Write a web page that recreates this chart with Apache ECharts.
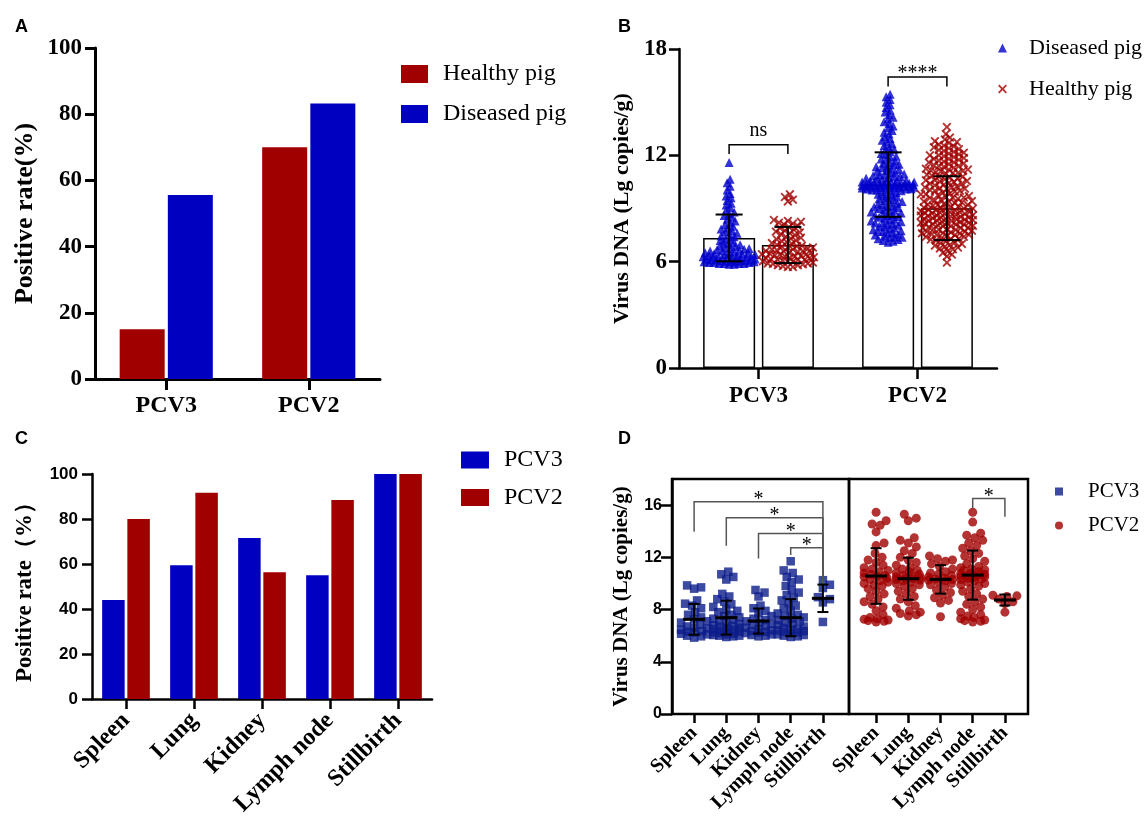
<!DOCTYPE html>
<html>
<head>
<meta charset="utf-8">
<script src="https://cdn.jsdelivr.net/npm/echarts@6/dist/echarts.min.js"></script>
<style>
  html, body { margin: 0; padding: 0; background: #fff; }
  #main { width: 1145px; height: 819px; }
</style>
</head>
<body>
<div id="main"></div>
<script>
// ---------- data ----------
// A: positive rate by herd status
const pigGroups = ['PCV3', 'PCV2'];
const rateHealthy = [15.0, 70.0];
const rateDiseased = [55.6, 83.2];

// B: viral load (Lg copies/g), individual samples
const dnaDiseasedPCV3 = [11.6, 10.65, 10.45, 10.25, 10.05, 9.85, 9.7, 9.6, 9.45, 9.3, 9.2, 9.05, 8.9, 8.8, 8.7, 8.6, 8.5, 8.4, 8.3, 8.2,
  8.1, 8.0, 7.9, 7.85, 7.75, 7.7, 7.6, 7.55, 7.45, 7.4, 7.3, 7.25, 7.2, 7.1, 7.05, 7.0, 6.95, 6.9, 6.85, 6.8, 6.75, 6.75, 6.7, 6.65,
  6.6, 6.6, 6.55, 6.5, 6.5, 6.45, 6.45, 6.4, 6.4, 6.35, 6.35, 6.3, 6.3, 6.3, 6.25, 6.25, 6.2, 6.2, 6.2, 6.15, 6.15, 6.15, 6.1, 6.1,
  6.1, 6.05, 6.05, 6.05, 6.0, 6.0, 6.0, 6.0, 5.95, 5.95, 5.95, 5.9, 5.9, 5.9, 5.9, 5.85, 5.85, 6.48, 6.28, 6.12, 6.02, 6.68];
const dnaHealthyPCV3 = [9.8, 9.65, 9.5, 9.4, 8.35, 8.3, 8.25, 8.2, 8.15, 8.1, 8.0, 7.95, 7.9, 7.8, 7.75, 7.7, 7.6, 7.55, 7.5, 7.4,
  7.35, 7.3, 7.2, 7.15, 7.1, 7.05, 7.0, 6.95, 6.9, 6.85, 6.8, 6.8, 6.75, 6.7, 6.7, 6.65, 6.6, 6.6, 6.55, 6.5, 6.5, 6.45, 6.4, 6.4,
  6.35, 6.3, 6.3, 6.25, 6.2, 6.2, 6.15, 6.1, 6.1, 6.05, 6.0, 6.0, 5.95, 5.9, 5.9, 5.85, 5.8, 5.8, 5.75, 5.7, 5.7, 6.42, 6.22, 6.02,
  6.58, 6.88, 7.25, 7.65, 5.88, 6.12, 6.32];
const dnaDiseasedPCV2 = [15.45, 15.3, 15.15, 15.0, 14.85, 14.7, 14.55, 14.45, 14.3, 14.15, 14.05, 13.9, 13.8, 13.65, 13.55, 13.4,
  13.3, 13.2, 13.05, 12.95, 12.85, 12.75, 12.65, 12.55, 12.45, 12.35, 12.3, 12.2, 12.1, 12.05, 11.95, 11.9, 11.8, 11.75, 11.7, 11.6,
  11.55, 11.5, 11.45, 11.4, 11.35, 11.3, 11.25, 11.2, 11.15, 11.1, 11.05, 11.0, 10.95, 10.9, 10.9, 10.85, 10.8, 10.8, 10.75, 10.7,
  10.7, 10.65, 10.6, 10.6, 10.55, 10.55, 10.5, 10.5, 10.5, 10.45, 10.45, 10.4, 10.4, 10.4, 10.35, 10.35, 10.35, 10.3, 10.3, 10.3,
  10.3, 10.25, 10.25, 10.25, 10.2, 10.2, 10.2, 10.2, 10.15, 10.15, 10.1, 10.1, 10.1, 10.05, 10.05, 10.0, 10.0, 9.95, 9.9, 9.85, 9.8,
  9.75, 9.7, 9.65, 9.6, 9.55, 9.5, 9.45, 9.4, 9.35, 9.3, 9.25, 9.2, 9.15, 9.1, 9.05, 9.0, 8.95, 8.9, 8.85, 8.8, 8.75, 8.7, 8.65, 8.6,
  8.55, 8.5, 8.45, 8.4, 8.35, 8.3, 8.25, 8.2, 8.15, 8.1, 8.05, 8.0, 7.95, 7.9, 7.85, 7.8, 7.75, 7.7, 7.65, 7.6, 7.55, 7.5, 7.45, 7.4,
  7.35, 7.3, 7.25, 7.2, 7.15, 7.1, 10.28, 10.32, 10.38, 10.22, 10.42, 10.18, 10.48, 10.12, 9.08, 8.62, 8.18, 7.72, 7.38];
const dnaHealthyPCV2 = [13.6, 13.2, 13.0, 12.9, 12.8, 12.75, 12.7, 12.6, 12.55, 12.5, 12.45, 12.4, 12.35, 12.3, 12.25, 12.2, 12.15,
  12.1, 12.05, 12.0, 12.0, 11.95, 11.9, 11.85, 11.8, 11.8, 11.75, 11.7, 11.65, 11.6, 11.6, 11.55, 11.5, 11.45, 11.4, 11.4, 11.35,
  11.3, 11.25, 11.2, 11.2, 11.15, 11.1, 11.05, 11.0, 11.0, 10.95, 10.9, 10.85, 10.8, 10.8, 10.75, 10.7, 10.65, 10.6, 10.6, 10.55,
  10.5, 10.45, 10.4, 10.4, 10.35, 10.3, 10.25, 10.2, 10.2, 10.15, 10.1, 10.05, 10.0, 10.0, 9.95, 9.9, 9.85, 9.8, 9.8, 9.75, 9.7,
  9.65, 9.6, 9.6, 9.55, 9.5, 9.45, 9.4, 9.4, 9.35, 9.3, 9.25, 9.2, 9.2, 9.15, 9.1, 9.1, 9.05, 9.0, 9.0, 8.95, 8.9, 8.9, 8.85, 8.8,
  8.8, 8.75, 8.7, 8.7, 8.65, 8.6, 8.6, 8.55, 8.5, 8.5, 8.45, 8.4, 8.4, 8.35, 8.3, 8.3, 8.25, 8.2, 8.2, 8.15, 8.1, 8.1, 8.05, 8.0,
  8.0, 7.95, 7.9, 7.9, 7.85, 7.8, 7.8, 7.75, 7.7, 7.7, 7.65, 7.6, 7.6, 7.55, 7.5, 7.5, 7.45, 7.4, 7.4, 7.35, 7.3, 7.25, 7.2, 7.15,
  7.1, 7.05, 7.0, 6.95, 6.9, 6.85, 6.8, 6.75, 6.7, 6.6, 6.5, 6.4, 6.3, 5.95, 8.02, 8.22, 8.42, 8.62, 8.82, 9.02, 9.22, 8.12, 8.32,
  8.52, 8.72, 7.82, 7.62, 9.42, 9.62, 10.12, 10.52, 11.12, 7.52, 7.28, 7.92, 8.18, 8.38, 8.58, 8.78, 8.98];
const meanDiseased = [7.34, 10.35];
const sdDiseased = [1.32, 1.82];
const meanHealthy = [6.94, 9.02];
const sdHealthy = [1.02, 1.80];
// brackets: [left group, right group, bar height, left leg end, right leg end]
const sigB = [[0, 0, 12.6, 12.08, 12.08], [1, 1, 16.42, 15.88, 15.88]];
const sigBText = ['ns', '****'];

// C: positive rate by tissue
const tissues = ['Spleen', 'Lung', 'Kidney', 'Lymph node', 'Stillbirth'];
const tissueRatePCV3 = [44.0, 59.5, 71.6, 55.0, 100];
const tissueRatePCV2 = [80.0, 91.7, 56.3, 88.5, 100];

// D: viral load by tissue
const tissueDnaPCV3 = [
  [9.85, 9.7, 9.6, 8.7, 8.45, 8.3, 8.1, 7.8, 7.6, 7.4, 7.25, 7.1, 7.0, 6.85, 6.7, 6.55, 6.45, 6.35, 6.25, 6.15, 6.1, 6.0, 5.95, 5.85, 6.3, 6.6],
  [10.9, 10.7, 10.5, 10.3, 9.2, 9.0, 8.8, 8.6, 8.4, 8.2, 8.0, 7.9, 7.8, 7.6, 7.5, 7.4, 7.3, 7.2, 7.1, 7.0, 6.9, 6.8, 6.7, 6.6, 6.5,
    6.45, 6.4, 6.3, 6.25, 6.2, 6.15, 6.1, 6.05, 6.0, 6.0, 5.95, 5.9, 6.35, 6.55, 6.75],
  [9.5, 9.3, 9.0, 8.3, 8.1, 7.9, 7.7, 7.5, 7.3, 7.2, 7.1, 7.0, 6.9, 6.8, 6.7, 6.6, 6.5, 6.4, 6.35, 6.3, 6.2, 6.1, 6.05, 6.0, 5.95, 6.25],
  [11.7, 11.0, 10.8, 10.5, 10.3, 10.1, 9.8, 9.5, 9.3, 9.1, 8.9, 8.7, 8.5, 8.3, 8.1, 7.9, 7.7, 7.6, 7.5, 7.4, 7.3, 7.2, 7.1, 7.0, 6.9,
    6.8, 6.7, 6.6, 6.5, 6.45, 6.4, 6.3, 6.25, 6.2, 6.1, 6.05, 6.0, 5.95, 5.9, 6.35],
  [10.25, 9.9, 9.65, 8.95, 8.8, 8.55, 7.05]
];
const tissueDnaPCV2 = [
  [15.45, 14.8, 14.55, 14.45, 13.95, 13.1, 12.9, 12.3, 12.0, 11.8, 11.6, 11.4, 11.2, 11.0, 10.9, 10.8, 10.7, 10.6, 10.5, 10.4, 10.3,
    10.2, 10.1, 10.0, 9.8, 9.6, 9.4, 9.2, 9.0, 8.8, 8.6, 8.4, 8.2, 7.9, 7.6, 7.4, 7.3, 7.2, 7.15, 7.1, 7.05, 7.25, 9.9, 10.55, 11.1],
  [15.3, 15.0, 14.8, 13.5, 13.3, 13.1, 12.8, 12.5, 12.3, 12.0, 11.8, 11.6, 11.4, 11.2, 11.0, 10.9, 10.8, 10.7, 10.6, 10.5, 10.45,
    10.4, 10.35, 10.3, 10.2, 10.1, 10.0, 9.8, 9.6, 9.4, 9.2, 9.0, 8.8, 8.6, 8.3, 8.1, 7.9, 7.8, 7.7, 7.6, 7.5, 10.55, 10.25, 9.9, 11.1],
  [12.1, 11.9, 11.8, 11.7, 11.5, 11.3, 11.1, 10.9, 10.8, 10.7, 10.6, 10.5, 10.4, 10.3, 10.25, 10.2, 10.1, 10.0, 9.9, 9.7, 9.5, 9.3,
    9.1, 8.9, 8.7, 8.5, 7.45, 10.35],
  [15.45, 14.7, 13.85, 13.7, 13.5, 13.3, 13.1, 12.9, 12.7, 12.5, 12.3, 12.1, 11.9, 11.7, 11.5, 11.3, 11.2, 11.1, 11.0, 10.9, 10.8,
    10.7, 10.65, 10.6, 10.55, 10.5, 10.45, 10.4, 10.3, 10.2, 10.1, 10.0, 9.9, 9.8, 9.6, 9.4, 9.2, 9.0, 8.8, 8.6, 8.4, 8.2, 8.0, 7.8,
    7.6, 7.5, 7.4, 7.3, 7.2, 7.15, 7.1, 7.05, 10.75, 10.35, 11.05],
  [9.1, 9.05, 9.0, 8.8, 8.6, 8.45, 7.8]
];
const meanPCV3 = [7.25, 7.38, 7.12, 7.38, 8.86];
const sdPCV3 = [1.18, 1.30, 0.96, 1.42, 1.05];
const meanPCV2 = [10.57, 10.36, 10.31, 10.64, 8.73];
const sdPCV2 = [2.13, 1.61, 1.09, 1.88, 0.42];
// [left tissue, right tissue, bar height, left leg end, right leg end]
const sigPCV3 = [[0, 4, 16.26, 13.96, 9.88], [1, 4, 15.03, 12.89, 9.88], [2, 4, 13.83, 11.92, 9.88], [3, 4, 12.74, 12.17, 9.88]];
const sigPCV2 = [[3, 4, 16.5, 15.75, 15.1]];

// ---------- helpers ----------
const SERIF = 'Liberation Serif', SANS = 'Liberation Sans';
const RED = '#a00000', BLUE = '#0000c0', TRI = '#0000cc', NAVY = '#0c1d8a';
const CROSS = 'path://M0,1.5L1.5,0L5,3.5L8.5,0L10,1.5L6.5,5L10,8.5L8.5,10L5,6.5L1.5,10L0,8.5L3.5,5Z';

// simple beeswarm: horizontal pixel offsets so markers overlap as little as possible
function beeswarm(values, pxPerY, minDist, maxHalf) {
  const order = values.map((_, i) => i).sort((a, b) => values[a] - values[b]);
  const placed = [];
  const offsets = new Array(values.length).fill(0);
  for (const i of order) {
    const y = values[i] * pxPerY;
    const near = placed.filter(p => Math.abs(p[1] - y) < minDist);
    let best = 0, bestCost = Infinity;
    for (let s = 0; s <= 2 * maxHalf; s++) {
      const x = s === 0 ? 0 : (s % 2 ? (s + 1) / 2 : -s / 2);
      let cost = 0;
      for (const p of near) {
        const d = Math.hypot(p[0] - x, p[1] - y);
        if (d < minDist) cost += minDist - d;
      }
      if (cost < bestCost - 1e-9) { bestCost = cost; best = x; }
      if (cost === 0) break;
    }
    offsets[i] = best;
    placed.push([best, y]);
  }
  return offsets;
}
function swarmData(values, center, pxX, pxY, minDist, maxHalf) {
  const offs = beeswarm(values, pxY, minDist, maxHalf);
  return values.map((v, i) => [center + offs[i] / pxX, v]);
}

function errorBars(capW, meanW) {
  return function (params, api) {
    const x = api.value(0), m = api.value(1), s = api.value(2);
    const top = api.coord([x, m + s]), bot = api.coord([x, m - s]), mid = api.coord([x, m]);
    const st = { stroke: '#000', lineWidth: 2 };
    const kids = [
      { type: 'line', shape: { x1: top[0], y1: top[1], x2: bot[0], y2: bot[1] }, style: st },
      { type: 'line', shape: { x1: top[0] - capW / 2, y1: top[1], x2: top[0] + capW / 2, y2: top[1] }, style: st },
      { type: 'line', shape: { x1: bot[0] - capW / 2, y1: bot[1], x2: bot[0] + capW / 2, y2: bot[1] }, style: st }
    ];
    if (meanW) {
      kids.push({ type: 'line', shape: { x1: mid[0] - meanW / 2, y1: mid[1], x2: mid[0] + meanW / 2, y2: mid[1] },
        style: { stroke: '#000', lineWidth: 3 } });
    }
    return { type: 'group', children: kids };
  };
}

function brackets(texts, color, fontSize, dy) {
  return function (params, api) {
    const x0 = api.value(0), x1 = api.value(1), y = api.value(2);
    const p0 = api.coord([x0, api.value(3)]), p1 = api.coord([x0, y]);
    const p2 = api.coord([x1, y]), p3 = api.coord([x1, api.value(4)]);
    return {
      type: 'group',
      children: [
        { type: 'polyline', shape: { points: [p0, p1, p2, p3] }, style: { stroke: color, lineWidth: 1.5, fill: null } },
        { type: 'text', style: { text: texts[params.dataIndex], x: (p1[0] + p2[0]) / 2, y: p1[1] + dy[params.dataIndex],
          align: 'center', verticalAlign: 'middle', font: fontSize + 'px "' + SERIF + '"', fill: '#000' } }
      ]
    };
  };
}

const blackLine = w => ({ show: true, lineStyle: { color: '#000', width: w } });
const noSplit = { show: false };
const legendText = n => n.split('|')[1];

// layout constants (pixels)
const B = { left: 679, width: 318, top: 49, height: 319 };
const B_PX_X = B.width / 2, B_PX_Y = B.height / 18;
const B_OFF = 29.4 / B_PX_X;
const D = { top: 479, height: 235 };
const D_PX_X = 32.2, D_PX_Y = D.height / 18;

// ---------- option ----------
const option = {
  animation: false,
  backgroundColor: '#fff',
  title: [
    { text: 'A', left: 10, top: 13 }, { text: 'B', left: 613, top: 13 },
    { text: 'C', left: 10, top: 425 }, { text: 'D', left: 613, top: 425 }
  ].map(t => Object.assign(t, { textStyle: { fontFamily: SANS, fontWeight: 'bold', fontSize: 18, color: '#000' } })),
  legend: [
    { left: 401, top: 62, orient: 'vertical', padding: 0, itemWidth: 27, itemHeight: 18, itemGap: 16, selectedMode: false,
      data: [{ name: 'A|Healthy pig', icon: 'rect' }, { name: 'A|Diseased pig', icon: 'rect' }], formatter: legendText,
      textStyle: { fontFamily: SERIF, fontSize: 24, color: '#000', lineHeight: 18, padding: [0, 0, 0, 10] } },
    { left: 998, top: 37, orient: 'vertical', padding: 0, itemWidth: 9, itemHeight: 9, itemGap: 19, selectedMode: false,
      data: [{ name: 'B|Diseased pig', icon: 'triangle' }, { name: 'B|Healthy pig', icon: CROSS }], formatter: legendText,
      textStyle: { fontFamily: SERIF, fontSize: 22, color: '#000', lineHeight: 20, padding: [0, 0, 0, 17] } },
    { left: 461, top: 448, orient: 'vertical', padding: 0, itemWidth: 28, itemHeight: 17, itemGap: 13.5, selectedMode: false,
      data: [{ name: 'C|PCV3', icon: 'rect' }, { name: 'C|PCV2', icon: 'rect' }], formatter: legendText,
      textStyle: { fontFamily: SERIF, fontSize: 24, color: '#000', lineHeight: 17, padding: [0, 0, 0, 10] } },
    { left: 1055, top: 481, orient: 'vertical', padding: 0, itemWidth: 8, itemHeight: 8, itemGap: 13, selectedMode: false,
      data: [{ name: 'D|PCV3', icon: 'rect' }, { name: 'D|PCV2', icon: 'circle' }], formatter: legendText,
      textStyle: { fontFamily: SERIF, fontSize: 21, color: '#000', lineHeight: 20, padding: [0, 0, 0, 20] } }
  ],
  grid: [
    { left: 95, width: 285, top: 48, height: 331 },                 // 0 A
    { left: B.left, width: B.width, top: B.top, height: B.height }, // 1 B
    { left: 92, width: 340, top: 474, height: 225 },                // 2 C
    { left: 672, width: 177, top: D.top, height: D.height, show: true, borderColor: '#000', borderWidth: 2.5 },  // 3 D frame left
    { left: 849, width: 179, top: D.top, height: D.height, show: true, borderColor: '#000', borderWidth: 2.5 },  // 4 D frame right
    { left: 678, width: 5 * D_PX_X, top: D.top, height: D.height }, // 5 D data left
    { left: 860, width: 5 * D_PX_X, top: D.top, height: D.height }  // 6 D data right
  ].map(g => Object.assign(g, { outerBoundsMode: 'none', containLabel: false })),
  xAxis: [
    { gridIndex: 0, type: 'category', data: pigGroups, axisLine: blackLine(3),
      axisTick: { show: true, alignWithLabel: true, length: 11, lineStyle: { color: '#000', width: 3 } },
      axisLabel: { fontFamily: SERIF, fontWeight: 'bold', fontSize: 24, color: '#000', margin: 15 } },
    { gridIndex: 1, type: 'category', data: pigGroups, axisLine: blackLine(2.5),
      axisTick: { show: true, alignWithLabel: true, length: 11, lineStyle: { color: '#000', width: 2.5 } },
      axisLabel: { fontFamily: SERIF, fontWeight: 'bold', fontSize: 23, color: '#000', margin: 17 } },
    { gridIndex: 1, type: 'value', min: 0, max: 2, show: false, position: 'top' },
    { gridIndex: 2, type: 'category', data: tissues, axisLine: blackLine(2.5),
      axisTick: { show: true, alignWithLabel: true, length: 10, lineStyle: { color: '#000', width: 2.5 } },
      axisLabel: { fontFamily: SERIF, fontWeight: 'bold', fontSize: 24, color: '#000', rotate: 45, interval: 0, margin: 18 } },
    { gridIndex: 3, type: 'value', min: 0, max: 1, show: false },
    { gridIndex: 4, type: 'value', min: 0, max: 1, show: false },
    { gridIndex: 5, type: 'category', data: tissues, axisLine: { show: false },
      axisTick: { show: true, alignWithLabel: true, length: 9, lineStyle: { color: '#000', width: 2.5 } },
      axisLabel: { fontFamily: SERIF, fontWeight: 'bold', fontSize: 20, color: '#000', rotate: 45, interval: 0, margin: 16 } },
    { gridIndex: 5, type: 'value', min: 0, max: 5, show: false, position: 'top' },
    { gridIndex: 6, type: 'category', data: tissues, axisLine: { show: false },
      axisTick: { show: true, alignWithLabel: true, length: 9, lineStyle: { color: '#000', width: 2.5 } },
      axisLabel: { fontFamily: SERIF, fontWeight: 'bold', fontSize: 20, color: '#000', rotate: 45, interval: 0, margin: 16 } },
    { gridIndex: 6, type: 'value', min: 0, max: 5, show: false, position: 'top' }
  ],
  yAxis: [
    { gridIndex: 0, type: 'value', min: 0, max: 100, interval: 20, splitLine: noSplit,
      name: 'Positive rate(%)', nameLocation: 'middle', nameRotate: 90, nameGap: 57,
      nameTextStyle: { fontFamily: SERIF, fontWeight: 'bold', fontSize: 26, color: '#000' },
      axisLine: blackLine(3), axisTick: { show: true, length: 10, lineStyle: { color: '#000', width: 3 } },
      axisLabel: { fontFamily: SERIF, fontWeight: 'bold', fontSize: 23, color: '#000', margin: 13 } },
    { gridIndex: 1, type: 'value', min: 0, max: 18, interval: 6, splitLine: noSplit,
      name: 'Virus DNA (Lg copies/g)', nameLocation: 'middle', nameRotate: 90, nameGap: 46,
      nameTextStyle: { fontFamily: SERIF, fontWeight: 'bold', fontSize: 22, color: '#000' },
      axisLine: blackLine(2.5), axisTick: { show: true, length: 10, lineStyle: { color: '#000', width: 2.5 } },
      axisLabel: { fontFamily: SERIF, fontWeight: 'bold', fontSize: 23, color: '#000', margin: 12 } },
    { gridIndex: 2, type: 'value', min: 0, max: 100, interval: 20, splitLine: noSplit,
      name: 'Positive rate（%）', nameLocation: 'middle', nameRotate: 90, nameGap: 55,
      nameTextStyle: { fontFamily: SERIF, fontWeight: 'bold', fontSize: 23, color: '#000' },
      axisLine: blackLine(2.5), axisTick: { show: true, length: 10, lineStyle: { color: '#000', width: 2.5 } },
      axisLabel: { fontFamily: SANS, fontWeight: 'bold', fontSize: 17, color: '#000', margin: 14 } },
    { gridIndex: 3, type: 'value', min: 0, max: 18, interval: 4, splitLine: noSplit,
      name: 'Virus DNA (Lg copies/g)', nameLocation: 'middle', nameRotate: 90, nameGap: 40,
      nameTextStyle: { fontFamily: SERIF, fontWeight: 'bold', fontSize: 21, color: '#000' },
      axisLine: blackLine(2.5), axisTick: { show: true, length: 11, lineStyle: { color: '#000', width: 2.5 } },
      axisLabel: { fontFamily: SANS, fontWeight: 'bold', fontSize: 16, color: '#000', margin: 10, showMaxLabel: false } },
    { gridIndex: 4, type: 'value', min: 0, max: 18, show: false },
    { gridIndex: 5, type: 'value', min: 0, max: 18, show: false },
    { gridIndex: 6, type: 'value', min: 0, max: 18, show: false }
  ],
  series: [
    // A
    { name: 'A|Healthy pig', type: 'bar', xAxisIndex: 0, yAxisIndex: 0, data: rateHealthy, barWidth: 45, barGap: '7%',
      itemStyle: { color: RED } },
    { name: 'A|Diseased pig', type: 'bar', xAxisIndex: 0, yAxisIndex: 0, data: rateDiseased, barWidth: 45, barGap: '7%',
      itemStyle: { color: BLUE } },
    // B
    { name: 'B|mean diseased', type: 'bar', xAxisIndex: 1, yAxisIndex: 1, data: meanDiseased, barWidth: 52, barGap: '13%',
      itemStyle: { color: '#fff', borderColor: '#000', borderWidth: 1.5 }, z: 2 },
    { name: 'B|mean healthy', type: 'bar', xAxisIndex: 1, yAxisIndex: 1, data: meanHealthy, barWidth: 52, barGap: '13%',
      itemStyle: { color: '#fff', borderColor: '#000', borderWidth: 1.5 }, z: 2 },
    { name: 'B|Diseased pig', type: 'scatter', xAxisIndex: 2, yAxisIndex: 1, symbol: 'triangle', symbolSize: 9,
      itemStyle: { color: TRI }, z: 3,
      data: [dnaDiseasedPCV3, dnaDiseasedPCV2].flatMap((vals, g) =>
        swarmData(vals, g + 0.5 - B_OFF, B_PX_X, B_PX_Y, 4.5, 26)) },
    { name: 'B|Healthy pig', type: 'scatter', xAxisIndex: 2, yAxisIndex: 1, symbol: CROSS, symbolSize: 9,
      itemStyle: { color: RED }, z: 3,
      data: [dnaHealthyPCV3, dnaHealthyPCV2].flatMap((vals, g) =>
        swarmData(vals, g + 0.5 + B_OFF, B_PX_X, B_PX_Y, 5, 26)) },
    { name: 'B|sd', type: 'custom', xAxisIndex: 2, yAxisIndex: 1, z: 5, clip: false,
      renderItem: errorBars(27, 0),
      data: pigGroups.flatMap((_, g) => [[g + 0.5 - B_OFF, meanDiseased[g], sdDiseased[g]],
                                         [g + 0.5 + B_OFF, meanHealthy[g], sdHealthy[g]]]) },
    { name: 'B|sig', type: 'custom', xAxisIndex: 2, yAxisIndex: 1, z: 5, clip: false,
      renderItem: brackets(sigBText, '#000', 20, [-14, -3]),
      data: sigB.map(s => [s[0] + 0.5 - B_OFF, s[1] + 0.5 + B_OFF, s[2], s[3], s[4]]) },
    // C
    { name: 'C|PCV3', type: 'bar', xAxisIndex: 3, yAxisIndex: 2, data: tissueRatePCV3, barWidth: 22.5, barGap: '12%',
      itemStyle: { color: BLUE } },
    { name: 'C|PCV2', type: 'bar', xAxisIndex: 3, yAxisIndex: 2, data: tissueRatePCV2, barWidth: 22.5, barGap: '12%',
      itemStyle: { color: RED } },
    // D
    { name: 'D|PCV3', type: 'scatter', xAxisIndex: 7, yAxisIndex: 5, symbol: 'rect', symbolSize: 8.5,
      itemStyle: { color: NAVY }, z: 3,
      data: tissueDnaPCV3.flatMap((vals, t) => swarmData(vals, t + 0.5, D_PX_X, D_PX_Y, 7, 13)) },
    { name: 'D|PCV2', type: 'scatter', xAxisIndex: 9, yAxisIndex: 6, symbol: 'circle', symbolSize: 9,
      itemStyle: { color: RED }, z: 3,
      data: tissueDnaPCV2.flatMap((vals, t) => swarmData(vals, t + 0.5, D_PX_X, D_PX_Y, 7.5, 12)) },
    { name: 'D|sd3', type: 'custom', xAxisIndex: 7, yAxisIndex: 5, z: 5, clip: false, renderItem: errorBars(11, 22),
      data: tissues.map((_, t) => [t + 0.5, meanPCV3[t], sdPCV3[t]]) },
    { name: 'D|sd2', type: 'custom', xAxisIndex: 9, yAxisIndex: 6, z: 5, clip: false, renderItem: errorBars(11, 22),
      data: tissues.map((_, t) => [t + 0.5, meanPCV2[t], sdPCV2[t]]) },
    { name: 'D|sig3', type: 'custom', xAxisIndex: 7, yAxisIndex: 5, z: 4, clip: false,
      renderItem: brackets(sigPCV3.map(() => '*'), '#555', 20, sigPCV3.map(() => -2)),
      data: sigPCV3.map(s => [s[0] + 0.5, s[1] + 0.5, s[2], s[3], s[4]]) },
    { name: 'D|sig2', type: 'custom', xAxisIndex: 9, yAxisIndex: 6, z: 4, clip: false,
      renderItem: brackets(['*'], '#555', 20, [-2]),
      data: sigPCV2.map(s => [s[0] + 0.5, s[1] + 0.5, s[2], s[3], s[4]]) }
  ]
};

const chart = echarts.init(document.getElementById('main'), null, { renderer: 'canvas' });
chart.setOption(option);
</script>
</body>
</html>
